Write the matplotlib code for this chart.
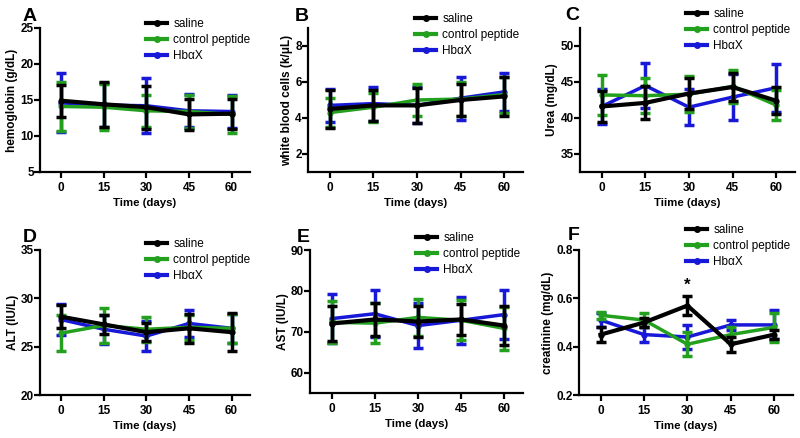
import matplotlib
matplotlib.use("Agg")
import matplotlib.pyplot as plt
from matplotlib.lines import Line2D

plt.rcParams['font.family'] = ['Liberation Sans', 'DejaVu Sans']

days = [0, 15, 30, 45, 60]
groups = ["saline", "control peptide", "HbαX"]
colors = {"saline": "#000000", "control peptide": "#22a01e", "HbαX": "#1818d8"}

# Panel A: hemoglobin
hgb_mean = {"saline": [14.9, 14.4, 14.0, 13.0, 13.1],
            "control peptide": [14.1, 14.0, 13.5, 13.4, 13.0],
            "HbαX": [14.6, 14.3, 14.2, 13.5, 13.4]}
hgb_sd = {"saline": [2.2, 3.1, 3.0, 2.1, 2.1],
          "control peptide": [3.4, 3.2, 2.2, 2.3, 2.6],
          "HbαX": [4.1, 3.1, 3.8, 2.3, 2.3]}
# Panel B: white blood cells
wbc_mean = {"saline": [4.5, 4.7, 4.7, 5.0, 5.2],
            "control peptide": [4.3, 4.6, 5.0, 5.05, 5.3],
            "HbαX": [4.7, 4.8, 4.7, 5.1, 5.45]}
wbc_sd = {"saline": [1.05, 0.85, 0.95, 0.9, 1.1],
          "control peptide": [0.8, 0.8, 0.9, 0.95, 1.0],
          "HbαX": [0.9, 0.95, 1.0, 1.2, 1.05]}
# Panel C: urea
urea_mean = {"saline": [41.6, 42.1, 43.4, 44.3, 42.4],
             "control peptide": [43.2, 43.1, 43.3, 44.4, 41.8],
             "HbαX": [41.6, 44.5, 41.5, 42.9, 44.2]}
urea_sd = {"saline": [2.2, 2.3, 2.1, 1.9, 1.9],
           "control peptide": [2.8, 2.4, 2.5, 2.3, 2.1],
           "HbαX": [2.4, 3.1, 2.5, 3.2, 3.3]}
# Panel D: ALT
alt_mean = {"saline": [28.1, 27.3, 26.5, 26.9, 26.5],
            "control peptide": [26.4, 27.2, 26.8, 27.0, 26.9],
            "HbαX": [27.8, 26.8, 26.1, 27.4, 26.9]}
alt_sd = {"saline": [1.2, 1.0, 0.9, 1.5, 2.0],
          "control peptide": [1.9, 1.8, 1.3, 1.3, 1.5],
          "HbαX": [1.6, 1.5, 1.6, 1.35, 1.5]}
# Panel E: AST
ast_mean = {"saline": [72.0, 73.0, 72.5, 73.0, 71.5],
            "control peptide": [72.3, 72.1, 73.5, 72.8, 70.8],
            "HbαX": [73.2, 74.4, 71.5, 72.8, 74.2]}
ast_sd = {"saline": [4.2, 4.1, 3.9, 3.7, 4.8],
          "control peptide": [5.1, 4.9, 4.5, 4.9, 5.2],
          "HbαX": [6.0, 5.7, 5.6, 5.8, 6.1]}
# Panel F: creatinine
cre_mean = {"saline": [0.45, 0.50, 0.57, 0.41, 0.45],
            "control peptide": [0.53, 0.51, 0.41, 0.45, 0.48],
            "HbαX": [0.51, 0.45, 0.44, 0.49, 0.49]}
cre_sd = {"saline": [0.03, 0.02, 0.04, 0.03, 0.02],
          "control peptide": [0.015, 0.03, 0.05, 0.03, 0.06],
          "HbαX": [0.03, 0.03, 0.05, 0.02, 0.06]}

panels = [
    ("A", hgb_mean, hgb_sd, "hemoglobin (g/dL)", "Time (days)", (5, 25), [5, 10, 15, 20, 25], None),
    ("B", wbc_mean, wbc_sd, "white blood cells (k/μL)", "Time (days)", (1, 9), [2, 4, 6, 8], None),
    ("C", urea_mean, urea_sd, "Urea (mg/dL)", "Tiime (days)", (32.5, 52.5), [35, 40, 45, 50], None),
    ("D", alt_mean, alt_sd, "ALT (IU/L)", "Time (days)", (20, 35), [20, 25, 30, 35], None),
    ("E", ast_mean, ast_sd, "AST (IU/L)", "Time (days)", (55, 90), [60, 70, 80, 90], None),
    ("F", cre_mean, cre_sd, "creatinine (mg/dL)", "Time (days)", (0.2, 0.8), [0.2, 0.4, 0.6, 0.8], "*"),
]

W, H = 800, 438
# axes boxes in pixels: left, right, top, bottom
boxes = [(40, 250, 28, 172), (308, 523, 28, 172), (580, 795, 28, 172),
         (40, 250, 250, 395), (310, 523, 250, 393), (579, 793, 250, 395)]
letters_pos = [(23, 21), (295, 21), (565, 20), (23, 242), (297, 242), (568, 240)]
legend_pos = [(146, 18), (415, 13), (686, 8), (146, 238), (416, 232), (686, 224)]

fig = plt.figure(figsize=(8, 4.38), dpi=100)

for i, (letter, means, sds, ylab, xlab, ylim, yticks, star) in enumerate(panels):
    l, r, t, b = boxes[i]
    ax = fig.add_axes([l / W, 1 - b / H, (r - l) / W, (b - t) / H])
    order = ["HbαX", "control peptide", "saline"]
    for z, g in enumerate(order):
        lw = 3.0 if g == "saline" else 2.5
        ax.errorbar(days, means[g], yerr=sds[g], color=colors[g], lw=lw,
                    elinewidth=2.5, capsize=3.5, capthick=2.5, marker='o',
                    markersize=3.5, zorder=2 + z, clip_on=False)
    ax.set_xlim(-7.5, 66.5)
    ax.set_ylim(*ylim)
    ax.set_xticks(days)
    ax.set_yticks(yticks)
    ax.set_yticklabels([f"{v:g}" if not isinstance(v, float) else f"{v:.1f}" for v in yticks])
    for s in ["top", "right"]:
        ax.spines[s].set_visible(False)
    for s in ["left", "bottom"]:
        ax.spines[s].set_linewidth(1.6)
    ax.tick_params(axis='both', width=1.6, length=4, labelsize=8.5)
    ax.tick_params(axis='y', pad=0.5)
    ax.tick_params(axis='x', pad=3)
    for lab in ax.get_xticklabels() + ax.get_yticklabels():
        lab.set_fontweight('bold')
    ax.set_xlabel(xlab, fontsize=8.2, fontweight='bold', labelpad=3)
    ax.set_ylabel(ylab, fontsize=8.5, fontweight='bold', labelpad=1.5)
    if star:
        ax.text(30, means["saline"][2] + sds["saline"][2] + 0.015, star,
                ha='center', va='bottom', fontsize=12, fontweight='bold')
    handles = [Line2D([0], [0], color=colors[g], lw=3, marker='o', markersize=4) for g in groups]
    lx, ly = legend_pos[i]
    ax.legend(handles, groups, loc='upper left', bbox_to_anchor=(lx / W, 1 - ly / H),
              bbox_transform=fig.transFigure, frameon=False, borderaxespad=0, borderpad=0,
              handlelength=1.8, handletextpad=0.5, labelspacing=0.35, fontsize=8.5)
    x0, y0 = letters_pos[i]
    fig.text(x0 / W, 1 - y0 / H, letter, fontsize=14, fontweight='bold', ha='left', va='baseline')

fig.savefig("out.png", dpi=100)
